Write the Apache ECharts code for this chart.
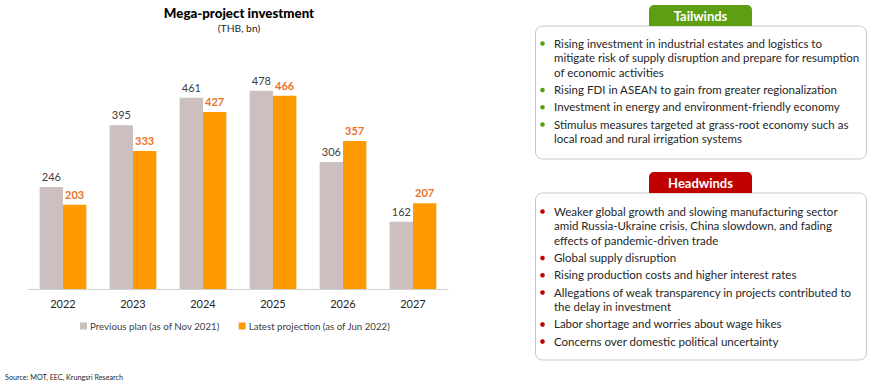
<!DOCTYPE html>
<html>
<head>
<meta charset="utf-8">
<script src="https://cdn.jsdelivr.net/npm/echarts@6/dist/echarts.min.js"></script>
<style>html,body{margin:0;padding:0;background:#fff;}#c{width:870px;height:388px;}</style>
</head>
<body>
<div id="c"></div>
<script>
var categories = ['2022', '2023', '2024', '2025', '2026', '2027'];
var previousPlan = [246, 395, 461, 478, 306, 162];
var latestProjection = [203, 333, 427, 466, 357, 207];
var seriesNames = ['Previous plan (as of Nov 2021)', 'Latest projection (as of Jun 2022)'];

var tailwinds = [
  ['Rising investment in industrial estates and logistics to', 'mitigate risk of supply disruption and prepare for resumption', 'of economic activities'],
  ['Rising FDI in ASEAN to gain from greater regionalization'],
  ['Investment in energy and environment-friendly economy'],
  ['Stimulus measures targeted at grass-root economy such as', 'local road and rural irrigation systems']
];
var headwinds = [
  ['Weaker global growth and slowing manufacturing sector', 'amid Russia-Ukraine crisis, China slowdown, and fading', 'effects of pandemic-driven trade'],
  ['Global supply disruption'],
  ['Rising production costs and higher interest rates'],
  ['Allegations of weak transparency in projects contributed to', 'the delay in investment'],
  ['Labor shortage and worries about wage hikes'],
  ['Concerns over domestic political uncertainty']
];

var FONT = 'Lato, "Open Sans", sans-serif';

function panel(title, color, items, tabTop, boxBottom, firstY) {
  var els = [];
  var boxTop = tabTop + 21;
  els.push({type: 'rect', shape: {x: 535.5, y: boxTop, width: 331, height: boxBottom - boxTop, r: 7},
    style: {fill: '#fff', stroke: '#c8c8c8', lineWidth: 1}});
  els.push({type: 'rect', shape: {x: 649, y: tabTop, width: 103, height: 21, r: [5, 5, 0, 0]},
    style: {fill: color}});
  els.push({type: 'text', x: 700.5, y: tabTop + 11, style: {text: title, fill: '#fff', font: 'bold 13px ' + FONT, align: 'center', verticalAlign: 'middle'}});
  var y = firstY;
  var lh = 14.7;
  items.forEach(function (lines) {
    els.push({type: 'circle', shape: {cx: 542.5, cy: y + 0.5, r: 2.3}, style: {fill: color}});
    lines.forEach(function (ln, i) {
      els.push({type: 'text', x: 554, y: y + i * lh, style: {text: ln, fill: '#262626', font: '11.5px ' + FONT, verticalAlign: 'middle'}});
    });
    y += lines.length * lh + 2.5;
  });
  return els;
}

var chart = echarts.init(document.getElementById('c'), null, {renderer: 'svg'});
var labelBase = {show: true, position: 'top', distance: 5, fontFamily: FONT, fontSize: 11};
chart.setOption({
  animation: false,
  title: [
    {text: 'Mega-project investment', left: 239, top: 6, padding: 0, textAlign: 'center',
      textStyle: {fontFamily: FONT, fontSize: 13.3, fontWeight: 900, color: '#000'}},
    {text: '(THB, bn)', left: 239, top: 23, padding: 0, textAlign: 'center',
      textStyle: {fontFamily: FONT, fontSize: 10.3, fontWeight: 'normal', color: '#262626'}},
    {text: 'Source: MOT, EEC, Krungsri Research', left: 5, top: 374, padding: 0,
      textStyle: {fontFamily: FONT, fontSize: 7.2, fontWeight: 'normal', color: '#262626'}}
  ],
  legend: {
    left: 80, top: 321, padding: 0, itemWidth: 7, itemHeight: 7, itemGap: 19,
    icon: 'rect',
    textStyle: {fontFamily: FONT, fontSize: 9.7, color: '#404040', padding: [0, 0, 0, -2]},
    data: seriesNames
  },
  grid: {left: 28, right: 422, top: 40.2, bottom: 99, containLabel: false},
  xAxis: {
    type: 'category', data: categories,
    axisLine: {lineStyle: {color: '#d0d0d0', width: 1}},
    axisTick: {show: false},
    axisLabel: {fontFamily: FONT, fontSize: 11, color: '#262626', margin: 9}
  },
  yAxis: {type: 'value', min: 0, max: 600, show: false, splitLine: {show: false}},
  series: [
    {name: seriesNames[0], type: 'bar', data: previousPlan, barGap: '0%', barCategoryGap: '33.3%',
      itemStyle: {color: '#CBC0BF'},
      label: Object.assign({}, labelBase, {color: '#404040'})},
    {name: seriesNames[1], type: 'bar', data: latestProjection,
      itemStyle: {color: '#FF9A00'},
      label: Object.assign({}, labelBase, {color: '#E8722A', fontWeight: 'bold'})}
  ],
  graphic: panel('Tailwinds', '#5E9E13', tailwinds, 5, 159, 43)
    .concat(panel('Headwinds', '#C00000', headwinds, 172, 360, 211))
});
</script>
</body>
</html>
